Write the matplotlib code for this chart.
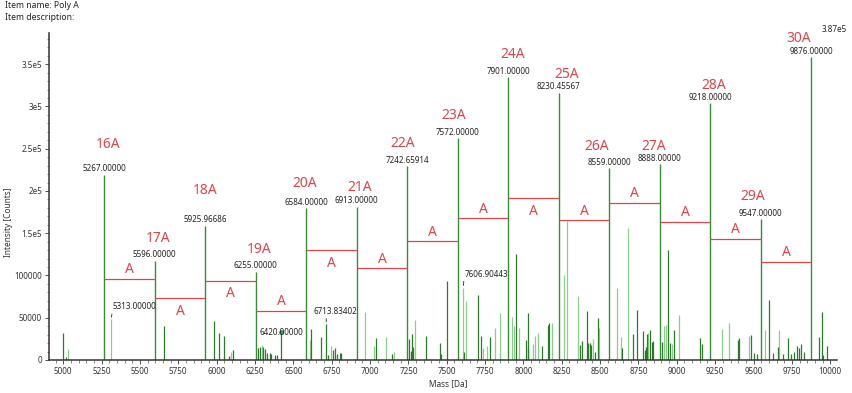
import numpy as np
import matplotlib
matplotlib.use("Agg")
import matplotlib.pyplot as plt
from matplotlib.ticker import MultipleLocator, FixedLocator, FixedFormatter

plt.rcParams['font.family'] = ['Noto Sans', 'DejaVu Sans']

# main (labelled) peaks
main_mass = [5267.0, 5596.0, 5925.96686, 6255.0, 6584.0, 6913.0, 7242.65914, 7572.0,
             7901.0, 8230.45567, 8559.0, 8888.0, 9218.0, 9547.0, 9876.0]
main_int = [219000, 117300, 158800, 104600, 179700, 181600, 229000, 262700,
            334500, 316000, 227100, 231900, 304100, 166700, 358200]
main_names = ["16A", "17A", "18A", "19A", "20A", "21A", "22A", "23A",
              "24A", "25A", "26A", "27A", "28A", "29A", "30A"]

# red "A" steps between consecutive main peaks
step_level = [96000, 73100, 93600, 58100, 130000, 108600, 140600, 167900,
              191600, 165500, 186000, 163500, 143400, 116100]
step_above = [True, False, False, True, False, True, True, True,
              False, True, True, True, True, True]

# smaller peaks, dark green
dark_mass = [5000, 5015, 5658, 5984, 6017, 6050, 6082, 6108,
             6270, 6283, 6302, 6313, 6326, 6348, 6357, 6383, 6396, 6420,
             6618, 6680, 6714, 6726, 6759, 6772, 6785, 6802, 6811, 7039, 7143,
             7257, 7265, 7274, 7283, 7367, 7456, 7463, 7504,
             7610, 7704, 7723, 7780, 7953, 8014, 8027, 8032, 8118, 8158, 8167,
             8366, 8379, 8412, 8423, 8434, 8442, 8468, 8486, 8640, 8712, 8741,
             8781, 8791, 8800, 8807, 8828, 8837, 8846,
             8906, 8943, 8956, 8982, 9154, 9165, 9399, 9406, 9482, 9500, 9523,
             9601, 9630, 9662, 9691, 9728, 9743, 9767, 9782, 9795, 9808, 9830,
             9929, 9946, 9955, 9981]
dark_int = [32300, 3900, 40700, 46200, 31600, 28400, 5100, 11800,
            13800, 15000, 15800, 12700, 8700, 7900, 6700, 5900, 5900, 33500,
            36700, 26900, 42700, 5900, 11800, 14600, 6700, 7900, 7900, 26400, 6700,
            24900, 11000, 30800, 15000, 28400, 20500, 7100, 94000,
            9800, 77000, 28400, 27600, 125200, 23700, 56100, 13800, 17000, 41500, 43400,
            17800, 22500, 58400, 20500, 20500, 17800, 9800, 49400, 14200, 30400, 59200,
            34400, 11800, 15800, 30400, 35500, 21700, 22500,
            21700, 130300, 20500, 35500, 25700, 19000, 23700, 25700, 29600, 7900, 7100,
            71100, 8700, 15800, 6700, 25700, 6700, 9800, 17000, 13800, 19000, 9800,
            27600, 57200, 5900, 17000]

# smaller peaks, light green
light_mass = [5031, 5313, 6093, 6294, 6609, 6748, 6967, 7028, 7107, 7156, 7296,
              7607, 7628, 7736, 7765, 7812, 7847, 7923, 7936, 7969, 8062, 8077, 8092,
              8186, 8264, 8284, 8358, 8453, 8493, 8610, 8638, 8684, 8813,
              8919, 8930, 8967, 9013, 9295, 9341, 9471, 9575, 9669]
light_int = [12700, 48200, 9100, 17800, 23700, 16600, 56500, 16600, 27600, 9800, 47400,
             85700, 69900, 14600, 17000, 38300, 55300, 51300, 40300, 38300, 18600, 28400, 31600,
             43400, 100700, 164700, 75800, 24500, 37500, 84900, 27600, 156700, 31600,
             40700, 41500, 18600, 53300, 36300, 44200, 28400, 35500, 35500]

# peaks with an extra mass label
note_mass = [5313.0, 6420.0, 6713.83402, 7606.90443]
note_int = [48200, 33500, 42700, 85700]

x_ticks = [5000, 5250, 5500, 5750, 6000, 6250, 6500, 6750, 7000, 7250, 7500,
           7750, 8000, 8250, 8500, 8750, 9000, 9250, 9500, 9750, 10000]
y_ticks = [0, 50000, 100000, 150000, 200000, 250000, 300000, 350000]
y_tick_labels = ["0", "50000", "100000", "1.5e5", "2e5", "2.5e5", "3e5", "3.5e5"]

RED = "#d9474a"
MAIN_GREEN = "#3a8a3a"
DARK_GREEN = "#2b7a2b"
LIGHT_GREEN = "#8ccc8c"

fig = plt.figure(figsize=(8.53, 3.93), dpi=100)
ax = fig.add_axes([0.0574, 0.084, 0.9238, 0.8321])

ax.vlines(light_mass, 0, light_int, color=LIGHT_GREEN, lw=0.9)
ax.vlines(dark_mass, 0, dark_int, color=DARK_GREEN, lw=0.9)
ax.vlines(main_mass, 0, main_int, color=MAIN_GREEN, lw=1.0)

px = 0.72  # points per pixel at dpi 100

# number labels on main peaks
for m, h in zip(main_mass, main_int):
    ax.annotate(f"{m:.5f}", (m, h), xytext=(0, 6 * px), textcoords="offset points",
                ha="center", va="center", fontsize=5.8, color="#222222")

# red "NNA" labels (offset in pixels from the peak top)
name_dx = [4, 3, 0, 3, -2, 3, -5, -4, 4, 8, -12, -6, 3, -8, -13]
name_dy = [30, 22, 35, 22, 25, 19, 23, 23, 23, 18, 22, 18, 18, 23, 19]
for m, h, n, dx, dy in zip(main_mass, main_int, main_names, name_dx, name_dy):
    ax.annotate(n, (m, h), xytext=(dx * px, dy * px), textcoords="offset points",
                ha="center", va="center", fontsize=10, color=RED)

# red steps with "A"
for i, lvl in enumerate(step_level):
    x0, x1 = main_mass[i], main_mass[i + 1]
    ax.hlines(lvl, x0, x1, color=RED, lw=0.9)
    dy = 9 if step_above[i] else -13
    ax.annotate("A", ((x0 + x1) / 2, lvl), xytext=(0, dy * px), textcoords="offset points",
                ha="center", va="center", fontsize=10, color=RED)

# extra labels on small peaks
note_dx = [1, 0, 9, 1]
note_dy = [8, -1, 8, 9]
note_ha = ["left", "center", "center", "left"]
note_rel = [(0.0, 0.0), None, (0.3, 0.0), (0.0, 0.0)]
for m, h, dx, dy, ha, rel in zip(note_mass, note_int, note_dx, note_dy, note_ha, note_rel):
    va = "bottom" if rel is not None else "center"
    props = None
    if rel is not None:
        props = dict(arrowstyle="-", lw=0.6, color="#222222", relpos=rel,
                     shrinkA=0, shrinkB=1.5)
    ax.annotate(f"{m:.5f}", (m, h), xytext=(dx * px, dy * px), textcoords="offset points",
                ha=ha, va=va, fontsize=5.8, color="#222222", arrowprops=props)
ax.plot([note_mass[1]], [note_int[1]], "o", ms=2.5, color="#3a9a5a")

ax.set_xlim(4907, 10044)
ax.set_ylim(0, 387000)
ax.xaxis.set_major_locator(FixedLocator(x_ticks))
ax.xaxis.set_minor_locator(MultipleLocator(50))
ax.yaxis.set_major_locator(FixedLocator(y_ticks))
ax.yaxis.set_major_formatter(FixedFormatter(y_tick_labels))
ax.yaxis.set_minor_locator(MultipleLocator(10000))
ax.tick_params(which="major", length=3, width=0.6, labelsize=5.8, colors="#333333", pad=2)
ax.tick_params(which="minor", length=1.8, width=0.5, colors="#555555")

for s in ["top", "right"]:
    ax.spines[s].set_visible(False)
for s in ["left", "bottom"]:
    ax.spines[s].set_linewidth(1.1)
    ax.spines[s].set_color("#333333")

fig.text(448 / 853, 1 - 384 / 393, "Mass [Da]", ha="center", va="center",
         fontsize=6, color="#333333")
fig.text(9 / 853, 1 - 222 / 393, "Intensity [Counts]", ha="center", va="center",
         rotation=90, fontsize=6, color="#333333")
fig.text(5 / 853, 1 - 6 / 393, "Item name: Poly A", ha="left", va="center",
         fontsize=6.2, color="#222222")
fig.text(5 / 853, 1 - 18 / 393, "Item description:", ha="left", va="center",
         fontsize=6.2, color="#222222")
fig.text(834 / 853, 1 - 30 / 393, "3.87e5", ha="center", va="center",
         fontsize=5.8, color="#222222")

fig.savefig("out.png", dpi=100)
